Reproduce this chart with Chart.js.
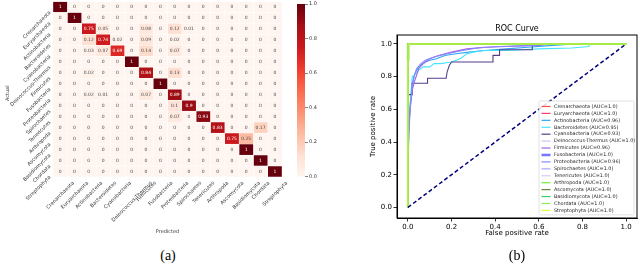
<!DOCTYPE html>
<html lang="en">
<head>
<meta charset="UTF-8" />
<title>Confusion matrix and ROC curve</title>
<script src="https://cdn.jsdelivr.net/npm/chart.js"></script>
<style>
  body {
    margin: 0;
    width: 640px;
    height: 267px;
    position: relative;
    overflow: hidden;
    background: #fff;
    font-family: "DejaVu Sans", sans-serif;
  }
  canvas { position: absolute; }
  #heat { left: 0; top: 0; }
  #cbar { left: 290px; top: 0; }
  #roc { left: 360px; top: 0; }
  .cap {
    position: absolute;
    top: 248px;
    width: 60px;
    margin-left: -30px;
    text-align: center;
    font-family: "Liberation Serif", serif;
    font-size: 14px;
    color: #000;
  }
</style>
</head>
<body>
<canvas id="heat" width="290" height="245"></canvas>
<canvas id="cbar" width="45" height="190"></canvas>
<canvas id="roc" width="280" height="267"></canvas>
<div class="cap" style="left:168px">(a)</div>
<div class="cap" style="left:517px">(b)</div>

<script>
// class names (rows = actual, columns = predicted)
const classes = [
  "Crenarchaeota", "Euryarchaeota", "Actinobacteria", "Bacteroidetes",
  "Cyanobacteria", "Deinococcus-Thermus", "Firmicutes", "Fusobacteria",
  "Proteobacteria", "Spirochaetes", "Tenericutes", "Arthropoda",
  "Ascomycota", "Basidiomycota", "Chordata", "Streptophyta"
];

// normalised confusion matrix
const confusion = [
  [1, 0, 0, 0, 0, 0, 0, 0, 0, 0, 0, 0, 0, 0, 0, 0],
  [0, 1, 0, 0, 0, 0, 0, 0, 0, 0, 0, 0, 0, 0, 0, 0],
  [0, 0, 0.75, 0.05, 0, 0, 0.08, 0, 0.12, 0.01, 0, 0, 0, 0, 0, 0],
  [0, 0, 0.12, 0.74, 0.02, 0, 0.09, 0, 0.02, 0, 0, 0, 0, 0, 0, 0],
  [0, 0, 0.03, 0.07, 0.69, 0, 0.14, 0, 0.07, 0, 0, 0, 0, 0, 0, 0],
  [0, 0, 0, 0, 0, 1, 0, 0, 0, 0, 0, 0, 0, 0, 0, 0],
  [0, 0, 0.02, 0, 0, 0, 0.84, 0, 0.13, 0, 0, 0, 0, 0, 0, 0],
  [0, 0, 0, 0, 0, 0, 0, 1, 0, 0, 0, 0, 0, 0, 0, 0],
  [0, 0, 0.02, 0.01, 0, 0, 0.07, 0, 0.89, 0, 0, 0, 0, 0, 0, 0],
  [0, 0, 0, 0, 0, 0, 0, 0, 0.1, 0.9, 0, 0, 0, 0, 0, 0],
  [0, 0, 0, 0, 0, 0, 0, 0, 0.07, 0, 0.93, 0, 0, 0, 0, 0],
  [0, 0, 0, 0, 0, 0, 0, 0, 0, 0, 0, 0.83, 0, 0, 0.17, 0],
  [0, 0, 0, 0, 0, 0, 0, 0, 0, 0, 0, 0, 0.75, 0.25, 0, 0],
  [0, 0, 0, 0, 0, 0, 0, 0, 0, 0, 0, 0, 0, 1, 0, 0],
  [0, 0, 0, 0, 0, 0, 0, 0, 0, 0, 0, 0, 0, 0, 1, 0],
  [0, 0, 0, 0, 0, 0, 0, 0, 0, 0, 0, 0, 0, 0, 0, 1]
];

const colorbarTicks = [0, 0.2, 0.4, 0.6, 0.8, 1.0];

// ROC curves
const rocAuc = ["1.0", "1.0", "0.96", "0.95", "0.93", "1.0", "0.96", "1.0",
                "0.96", "1.0", "1.0", "1.0", "1.0", "1.0", "1.0", "1.0"];
const rocColors = ["#ff4d4d", "#f5406e", "#2ea6f2", "#46e4ff", "#573c8c", "#c8c8f2",
                   "#a164e6", "#7676ff", "#8787ff", "#a6a6ff", "#d6c8f6", "#6ef03c",
                   "#66873c", "#32d264", "#8cee5a", "#dcff2e"];

const fprPerfect = [0, 0, 1];
const tprPerfect = [0, 1, 1];
const fprChordata = [0, 0, 0.005, 0.005, 1];
const tprChordata = [0, 0.9, 0.9, 1, 1];
const fprActino = [0, 0, 0.005, 0.01, 0.015, 0.02, 0.03, 0.04, 0.06, 0.08, 0.1, 0.13, 0.17, 0.22, 0.28, 0.35, 0.45, 0.55, 0.65, 0.76, 1];
const tprActino = [0, 0.3, 0.5, 0.62, 0.7, 0.76, 0.81, 0.84, 0.87, 0.89, 0.9, 0.91, 0.93, 0.94, 0.95, 0.96, 0.97, 0.98, 0.99, 1, 1];
const fprBactero = [0, 0, 0.005, 0.01, 0.015, 0.02, 0.03, 0.05, 0.07, 0.1, 0.12, 0.15, 0.2, 0.24, 0.27, 0.3, 0.35, 0.45, 0.6, 0.75, 0.83, 0.83, 1];
const tprBactero = [0, 0.35, 0.52, 0.62, 0.72, 0.8, 0.81, 0.84, 0.86, 0.86, 0.88, 0.88, 0.89, 0.91, 0.94, 0.95, 0.96, 0.96, 0.97, 0.975, 0.985, 1, 1];
const fprCyano = [0, 0, 0.02, 0.02, 0.09, 0.09, 0.175, 0.18, 0.19, 0.2, 0.39, 0.39, 0.42, 0.42, 0.57, 0.57, 0.65, 1];
const tprCyano = [0, 0.69, 0.69, 0.76, 0.76, 0.79, 0.79, 0.83, 0.87, 0.89, 0.89, 0.93, 0.93, 0.965, 0.965, 0.99, 1, 1];
const fprFirmi = [0, 0, 0.01, 0.02, 0.03, 0.04, 0.05, 0.07, 0.1, 0.14, 0.2, 0.27, 0.35, 0.45, 0.55, 0.68, 1];
const tprFirmi = [0, 0.4, 0.6, 0.72, 0.77, 0.81, 0.85, 0.88, 0.91, 0.93, 0.95, 0.97, 0.98, 0.985, 0.99, 1, 1];
const fprProteo = [0, 0, 0.005, 0.01, 0.02, 0.03, 0.04, 0.06, 0.08, 0.12, 0.18, 0.25, 0.32, 0.42, 0.55, 0.66, 1];
const tprProteo = [0, 0.25, 0.45, 0.6, 0.74, 0.81, 0.85, 0.88, 0.9, 0.92, 0.94, 0.96, 0.975, 0.985, 0.99, 1, 1];

const rocFpr = [fprPerfect, fprPerfect, fprActino, fprBactero, fprCyano, fprPerfect, fprFirmi, fprPerfect,
                fprProteo, fprPerfect, fprPerfect, fprPerfect, fprPerfect, fprPerfect, fprChordata, fprPerfect];
const rocTpr = [tprPerfect, tprPerfect, tprActino, tprBactero, tprCyano, tprPerfect, tprFirmi, tprPerfect,
                tprProteo, tprPerfect, tprPerfect, tprPerfect, tprPerfect, tprPerfect, tprChordata, tprPerfect];
const rocTicks = [0, 0.2, 0.4, 0.6, 0.8, 1.0];

Chart.defaults.font.family = "DejaVu Sans";

// matplotlib "Reds"
const redsStops = ["#fff5f0", "#fee0d2", "#fcbba1", "#fc9272", "#fb6a4a",
                   "#ef3b2c", "#cb181d", "#a50f15", "#67000d"];
function hexRgb(h) {
  return [1, 3, 5].map((k) => parseInt(h.substr(k, 2), 16));
}
function redsRgb(v) {
  const t = Math.max(0, Math.min(1, v)) * 8;
  const k = Math.min(7, Math.floor(t));
  const f = t - k;
  const a = hexRgb(redsStops[k]), b = hexRgb(redsStops[k + 1]);
  return a.map((c, i) => Math.round(c + (b[i] - c) * f));
}
function reds(v) {
  const c = redsRgb(v);
  return `rgb(${c[0]},${c[1]},${c[2]})`;
}
// seaborn picks the annotation colour from the cell luminance
function textColor(v) {
  const lin = redsRgb(v).map((c) => {
    c /= 255;
    return c <= 0.03928 ? c / 12.92 : Math.pow((c + 0.055) / 1.055, 2.4);
  });
  const lum = 0.2126 * lin[0] + 0.7152 * lin[1] + 0.0722 * lin[2];
  return lum > 0.408 ? "#4a4a4a" : "#ffffff";
}

// ---------- heatmap ----------
const heatText = {
  id: "heatText",
  afterDatasetsDraw(chart) {
    const ctx = chart.ctx;
    ctx.save();
    ctx.font = '4.5px "DejaVu Sans"';
    ctx.textAlign = "center";
    ctx.textBaseline = "middle";
    chart.data.datasets.forEach((ds, j) => {
      chart.getDatasetMeta(j).data.forEach((bar, i) => {
        const v = confusion[i][j];
        ctx.fillStyle = textColor(v);
        ctx.fillText(String(v), (bar.x + bar.base) / 2, bar.y);
      });
    });
    ctx.restore();
  },
  afterDraw(chart) {
    const { ctx, chartArea: a, scales } = chart;
    ctx.save();
    ctx.font = '5px "DejaVu Sans"';
    ctx.fillStyle = "#333";
    // row labels, rotated 45 degrees
    classes.forEach((name, i) => {
      ctx.save();
      ctx.translate(a.left - 3, scales.y.getPixelForValue(i) + 5);
      ctx.rotate(-Math.PI / 4);
      ctx.textAlign = "right";
      ctx.textBaseline = "middle";
      ctx.fillText(name, 0, 0);
      ctx.restore();
    });
    // column labels, rotated box centred under the column
    const h = 5.8;
    classes.forEach((name, j) => {
      const px = scales.x.getPixelForValue(j + 0.5);
      const L = ctx.measureText(name).width;
      ctx.save();
      ctx.translate(px - 0.354 * (L - h), a.bottom + 3 + 0.707 * (L + h));
      ctx.rotate(-Math.PI / 4);
      ctx.textAlign = "left";
      ctx.textBaseline = "bottom";
      ctx.fillText(name, 0, 0);
      ctx.restore();
    });
    ctx.textAlign = "center";
    ctx.textBaseline = "middle";
    ctx.fillText("Predicted", (a.left + a.right) / 2, 232);
    ctx.save();
    ctx.translate(8, (a.top + a.bottom) / 2 + 4);
    ctx.rotate(-Math.PI / 2);
    ctx.fillText("Actual", 0, 0);
    ctx.restore();
    ctx.restore();
  }
};

new Chart(document.getElementById("heat"), {
  type: "bar",
  data: {
    labels: classes,
    datasets: classes.map((c, j) => ({
      label: c,
      data: classes.map(() => 1),
      backgroundColor: classes.map((r, i) => reds(confusion[i][j])),
      borderColor: "#ffffff",
      borderWidth: 0.5,
      borderSkipped: false,
      barPercentage: 1,
      categoryPercentage: 1
    }))
  },
  options: {
    indexAxis: "y",
    responsive: false,
    animation: false,
    devicePixelRatio: 1,
    layout: { padding: { left: 53, top: 1.5, right: 8, bottom: 68 } },
    plugins: { legend: { display: false }, tooltip: { enabled: false } },
    scales: {
      x: { stacked: true, min: 0, max: 16, display: false },
      y: { stacked: true, display: false }
    }
  },
  plugins: [heatText]
});

// ---------- colour bar ----------
new Chart(document.getElementById("cbar"), {
  type: "bar",
  data: {
    labels: ["scale"],
    datasets: [{
      data: [[0, 1]],
      backgroundColor: (c) => {
        const a = c.chart.chartArea;
        if (!a) return "#fff";
        const g = c.chart.ctx.createLinearGradient(0, a.bottom, 0, a.top);
        redsStops.forEach((s, k) => g.addColorStop(k / 8, s));
        return g;
      },
      barPercentage: 1,
      categoryPercentage: 1
    }]
  },
  options: {
    responsive: false,
    animation: false,
    devicePixelRatio: 1,
    layout: { padding: { left: 7, top: 2.5, right: 0, bottom: 13.3 } },
    plugins: { legend: { display: false }, tooltip: { enabled: false } },
    scales: {
      x: { display: false },
      y: {
        position: "right",
        min: 0,
        max: 1,
        afterBuildTicks: (s) => { s.ticks = colorbarTicks.map((v) => ({ value: v })); },
        afterFit: (s) => { s.width = 30; },
        ticks: { callback: (v) => v.toFixed(1), font: { size: 5 }, color: "#333", padding: 1 },
        grid: { drawOnChartArea: false, tickLength: 3, color: "#333", lineWidth: 0.6 },
        border: { display: false }
      }
    }
  }
});

// ---------- ROC ----------
const frame = {
  id: "frame",
  afterDatasetsDraw(chart) {
    const { ctx, chartArea: a } = chart;
    ctx.save();
    ctx.strokeStyle = "#000";
    ctx.lineWidth = 1;
    ctx.strokeRect(a.left, a.top, a.right - a.left, a.bottom - a.top);
    ctx.restore();
  }
};

const rocLegend = {
  id: "rocLegend",
  afterDraw(chart) {
    const ctx = chart.ctx;
    const x0 = 539 - 360, y0 = 101, w = 95, rowH = 6.93;
    const h = classes.length * rowH + 3;
    ctx.save();
    ctx.fillStyle = "rgba(255,255,255,0.85)";
    ctx.strokeStyle = "#cccccc";
    ctx.lineWidth = 0.6;
    ctx.beginPath();
    ctx.roundRect(x0, y0, w, h, 1.5);
    ctx.fill();
    ctx.stroke();
    ctx.font = '4.9px "DejaVu Sans"';
    ctx.textBaseline = "middle";
    classes.forEach((name, i) => {
      const cy = y0 + 2 + rowH * (i + 0.5);
      ctx.strokeStyle = rocColors[i];
      ctx.lineWidth = i === 7 ? 2.5 : 1.2;
      ctx.beginPath();
      ctx.moveTo(x0 + 2.5, cy);
      ctx.lineTo(x0 + 11.5, cy);
      ctx.stroke();
      ctx.fillStyle = "#262626";
      ctx.fillText(`${name} (AUC=${rocAuc[i]})`, x0 + 15, cy);
    });
    ctx.restore();
  }
};

const rocSets = classes.map((name, i) => ({
  label: name,
  data: rocFpr[i].map((x, k) => ({ x, y: rocTpr[i][k] })),
  showLine: true,
  borderColor: rocColors[i],
  borderWidth: i === 7 ? 2 : 1.1,
  pointRadius: 0,
  tension: 0,
  fill: false,
  order: 20 - i
}));
rocSets.push({
  label: "chance",
  data: [{ x: 0, y: 0 }, { x: 1, y: 1 }],
  showLine: true,
  borderColor: "#000080",
  borderWidth: 1.5,
  borderDash: [4, 2.5],
  pointRadius: 0,
  order: 0
});

const tickFont = { size: 7 };
new Chart(document.getElementById("roc"), {
  type: "scatter",
  data: { datasets: rocSets },
  options: {
    responsive: false,
    animation: false,
    devicePixelRatio: 1,
    layout: { padding: { left: 0, right: 3, top: 0, bottom: 0 } },
    plugins: {
      legend: { display: false },
      tooltip: { enabled: false },
      title: {
        display: true,
        text: "ROC Curve",
        color: "#000",
        fullSize: false,
        font: { size: 8, weight: "normal" },
        padding: { top: 24, bottom: 1.4 }
      }
    },
    scales: {
      x: {
        type: "linear",
        min: -0.05,
        max: 1.05,
        afterBuildTicks: (s) => { s.ticks = rocTicks.map((v) => ({ value: v })); },
        afterFit: (s) => { s.height = 49; },
        ticks: { callback: (v) => v.toFixed(1), font: tickFont, color: "#000", padding: 1, maxRotation: 0 },
        grid: { drawOnChartArea: false, tickLength: 3.5, color: "#000", lineWidth: 0.8 },
        border: { color: "#000", width: 1 },
        title: { display: true, text: "False positive rate", color: "#000", font: tickFont, padding: { top: 30, bottom: 30 } }
      },
      y: {
        type: "linear",
        min: -0.065,
        max: 1.055,
        afterBuildTicks: (s) => { s.ticks = rocTicks.map((v) => ({ value: v })); },
        afterFit: (s) => { s.width = 37; },
        ticks: { callback: (v) => v.toFixed(1), font: tickFont, color: "#000", padding: 1.5 },
        grid: { drawOnChartArea: false, tickLength: 3.5, color: "#000", lineWidth: 0.8 },
        border: { color: "#000", width: 1 },
        title: { display: true, text: "True positive rate", color: "#000", font: tickFont, padding: { top: 9, bottom: 9 } }
      }
    }
  },
  plugins: [frame, rocLegend]
});
</script>
</body>
</html>
